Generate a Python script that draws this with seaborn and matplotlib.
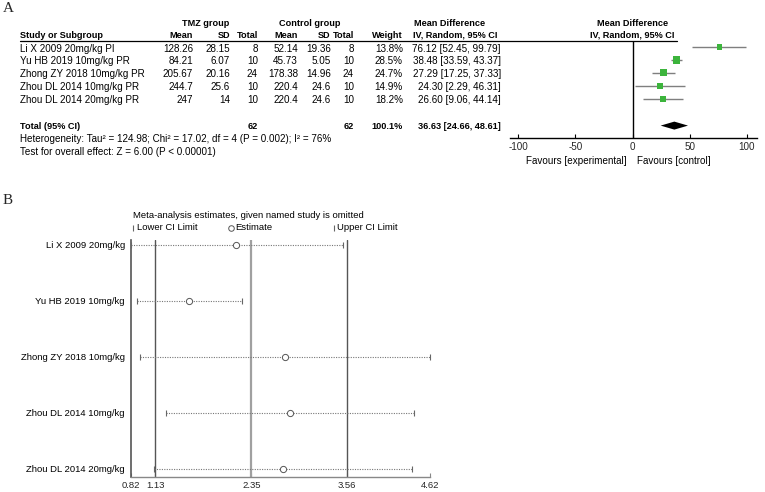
import matplotlib
matplotlib.use("Agg")
import matplotlib.pyplot as plt
import seaborn as sns
import pandas as pd

# ---------------- panel A data ----------------
studies = ["Li X 2009 20mg/kg PI", "Yu HB 2019 10mg/kg PR", "Zhong ZY 2018 10mg/kg PR",
           "Zhou DL 2014 10mg/kg PR", "Zhou DL 2014 20mg/kg PR"]
tmz_mean = [128.26, 84.21, 205.67, 244.7, 247]
tmz_sd = [28.15, 6.07, 20.16, 25.6, 14]
tmz_n = [8, 10, 24, 10, 10]
ctl_mean = [52.14, 45.73, 178.38, 220.4, 220.4]
ctl_sd = [19.36, 5.05, 14.96, 24.6, 24.6]
ctl_n = [8, 10, 24, 10, 10]
weight = [13.8, 28.5, 24.7, 14.9, 18.2]
md = [76.12, 38.48, 27.29, 24.30, 26.60]
md_lo = [52.45, 33.59, 17.25, 2.29, 9.06]
md_hi = [99.79, 43.37, 37.33, 46.31, 44.14]
total_md, total_lo, total_hi = 36.63, 24.66, 48.61
forest_ticks = [-100, -50, 0, 50, 100]

# ---------------- panel B data ----------------
omitted = ["Li X 2009 20mg/kg", "Yu HB 2019 10mg/kg", "Zhong ZY 2018 10mg/kg",
           "Zhou DL 2014 10mg/kg", "Zhou DL 2014 20mg/kg"]
est = [2.16, 1.56, 2.78, 2.84, 2.75]
lo = [0.82, 0.90, 0.94, 1.26, 1.11]
hi = [3.51, 2.23, 4.62, 4.42, 4.39]
pooled = [1.13, 2.35, 3.56]
b_ticks = [0.82, 1.13, 2.35, 3.56, 4.62]

sns.set_theme(style="white")
plt.rcParams['font.family'] = ['Liberation Sans', 'DejaVu Sans']
FS_A = 7.1
FS_BOLD = 6.6
FS_B = 6.8
W, H = 765, 492

fig = plt.figure(figsize=(W / 100, H / 100), dpi=100, facecolor='white')

# overlay axes in pixel coords for table text
ax0 = fig.add_axes([0, 0, 1, 1])
ax0.set_xlim(0, W)
ax0.set_ylim(H, 0)
ax0.axis('off')


def pix_axes(x0, y0, x1, y1):
    a = fig.add_axes([x0 / W, 1 - y1 / H, (x1 - x0) / W, (y1 - y0) / H])
    a.set_facecolor('none')
    return a


def txt(x, y, s, ha='left', bold=False, fs=None, **kw):
    if fs is None:
        fs = FS_BOLD if bold else FS_A
    ax0.text(x, y, s, ha=ha, va='center', fontsize=fs,
             fontweight='bold' if bold else 'normal', color='black', **kw)


# ---------------- panel A: table ----------------
ax0.text(3, 8, "A", fontsize=11, family='Liberation Serif', va='center', ha='left')
txt(206, 23.3, "TMZ group", ha='center', bold=True)
txt(310, 23.3, "Control group", ha='center', bold=True)
txt(414, 23.3, "Mean Difference", bold=True)
txt(633, 23.3, "Mean Difference", ha='center', bold=True)
y_h = 35
txt(20, y_h, "Study or Subgroup", bold=True)
for x, s in [(193, "Mean"), (230, "SD"), (258, "Total"), (298, "Mean"), (330, "SD"),
             (354.5, "Total"), (403, "Weight")]:
    txt(x, y_h, s, ha='right', bold=True)
txt(413, y_h, "IV, Random, 95% CI", bold=True)
txt(632, y_h, "IV, Random, 95% CI", ha='center', bold=True)
ax0.plot([20, 677], [40.7, 40.7], color='black', lw=0.9)

ROW0, ROWH = 47, 12.95
TOTAL_I = 6.07
for i, s in enumerate(studies):
    y = ROW0 + ROWH * i + 1.5
    txt(20, y, s)
    txt(193, y, f"{tmz_mean[i]:g}", ha='right')
    txt(230, y, f"{tmz_sd[i]:g}", ha='right')
    txt(258, y, f"{tmz_n[i]}", ha='right')
    txt(298, y, f"{ctl_mean[i]:g}", ha='right')
    txt(331, y, f"{ctl_sd[i]:g}", ha='right')
    txt(354, y, f"{ctl_n[i]}", ha='right')
    txt(403, y, f"{weight[i]:.1f}%", ha='right')
    txt(501, y, f"{md[i]:.2f} [{md_lo[i]:.2f}, {md_hi[i]:.2f}]", ha='right')

yt = ROW0 + ROWH * TOTAL_I + 1.2
txt(20, yt, "Total (95% CI)", bold=True)
txt(258, yt, f"{sum(tmz_n)}", ha='right', bold=True)
txt(354, yt, f"{sum(ctl_n)}", ha='right', bold=True)
txt(403, yt, f"{sum(weight):.1f}%", ha='right', bold=True)
txt(501, yt, f"{total_md:.2f} [{total_lo:.2f}, {total_hi:.2f}]", ha='right', bold=True)
txt(20, 139, "Heterogeneity: Tau² = 124.98; Chi² = 17.02, df = 4 (P = 0.002); I² = 76%")
txt(20, 152, "Test for overall effect: Z = 6.00 (P < 0.00001)")
txt(627, 161, "Favours [experimental]", ha='right')
txt(637, 161, "Favours [control]")

# ---------------- panel A: forest plot ----------------
axf = pix_axes(510, 40.7, 756.7, 138.3)
scale = (746.7 - 518.3) / 200
axf.set_xlim(-100 - (518.3 - 510) / scale, 100 + (756.7 - 746.7) / scale)
axf.set_ylim((138.3 - ROW0) / ROWH, (40.7 - ROW0) / ROWH)

df_a = pd.DataFrame({"row": range(len(studies)), "md": md, "lo": md_lo, "hi": md_hi, "w": weight})
axf.hlines(df_a["row"], df_a["lo"], df_a["hi"], color='#7f7f7f', lw=1)
sns.scatterplot(data=df_a, x="md", y="row", size="w", sizes=(0, 31), size_norm=(0, 28.5),
                marker='s', color='#3cb43c', linewidth=0, legend=False, ax=axf, zorder=3)
dh = 4 / ROWH
axf.fill([total_lo, total_md, total_hi, total_md],
         [TOTAL_I, TOTAL_I - dh, TOTAL_I, TOTAL_I + dh], color='black', lw=0)
axf.axvline(0, color='black', lw=1)
for sp in ['top', 'right', 'left']:
    axf.spines[sp].set_visible(False)
axf.spines['bottom'].set_color('black')
axf.spines['bottom'].set_linewidth(1)
axf.set_xticks(forest_ticks)
axf.set_xticklabels([str(t) for t in forest_ticks])
axf.set_yticks([])
axf.tick_params(axis='x', direction='in', length=3, width=0.8, color='black',
                labelsize=FS_A, pad=2.5, bottom=True)
axf.set_xlabel("")
axf.set_ylabel("")

# ---------------- panel B ----------------
ax0.text(3, 200, "B", fontsize=11, family='Liberation Serif', va='center', ha='left')
txt(133, 215, "Meta-analysis estimates, given named study is omitted", fs=FS_B)
ax0.plot([133.5], [227.7], marker='|', ms=5, color='#666666', mew=0.8)
txt(137, 227.7, "Lower CI Limit", fs=FS_B)
ax0.plot([231.5], [227.7], marker='o', ms=4, mfc='white', mec='#555555', mew=0.7)
txt(235, 227.7, "Estimate", fs=FS_B)
ax0.plot([334], [227.7], marker='|', ms=5, color='#666666', mew=0.8)
txt(337.5, 227.7, "Upper CI Limit", fs=FS_B)

B_ROW0, B_ROWH = 245, 56
axb = pix_axes(131, 240, 430, 476.7)
axb.set_xlim(b_ticks[0], b_ticks[-1])
axb.set_ylim((476.7 - B_ROW0) / B_ROWH, (240 - B_ROW0) / B_ROWH)

for x, c, lw in zip(pooled, ['#555555', '#a0a0a0', '#555555'], [1.0, 1.6, 1.0]):
    axb.axvline(x, color=c, lw=lw, zorder=1)

df_b = pd.DataFrame({"row": range(len(omitted)), "est": est, "lo": lo, "hi": hi})
axb.hlines(df_b["row"], df_b["lo"], df_b["hi"], color='#777777', lw=0.8,
           linestyles=(0, (1, 1.2)), zorder=2)
sns.scatterplot(data=df_b, x="lo", y="row", marker='|', s=22, color='#666666',
                linewidth=0.8, legend=False, ax=axb, zorder=3, clip_on=False)
sns.scatterplot(data=df_b, x="hi", y="row", marker='|', s=22, color='#666666',
                linewidth=0.8, legend=False, ax=axb, zorder=3, clip_on=False)
sns.scatterplot(data=df_b, x="est", y="row", marker='o', s=20, facecolor='white',
                edgecolor='#555555', linewidth=0.7, legend=False, ax=axb, zorder=4)

for i, s in enumerate(omitted):
    txt(125, B_ROW0 + B_ROWH * i, s, ha='right', fs=FS_B)

for sp in ['top', 'right']:
    axb.spines[sp].set_visible(False)
axb.spines['left'].set_color('#555555')
axb.spines['left'].set_linewidth(1.2)
axb.spines['bottom'].set_color('#888888')
axb.spines['bottom'].set_linewidth(1)
axb.set_xticks(b_ticks)
axb.set_xticklabels([f"{t:.2f}" for t in b_ticks])
axb.set_yticks([])
axb.tick_params(axis='x', direction='in', length=3, width=0.8, color='#888888',
                labelsize=FS_B, pad=3, bottom=True)
axb.set_xlabel("")
axb.set_ylabel("")

fig.savefig("out.png", dpi=100, facecolor='white')
